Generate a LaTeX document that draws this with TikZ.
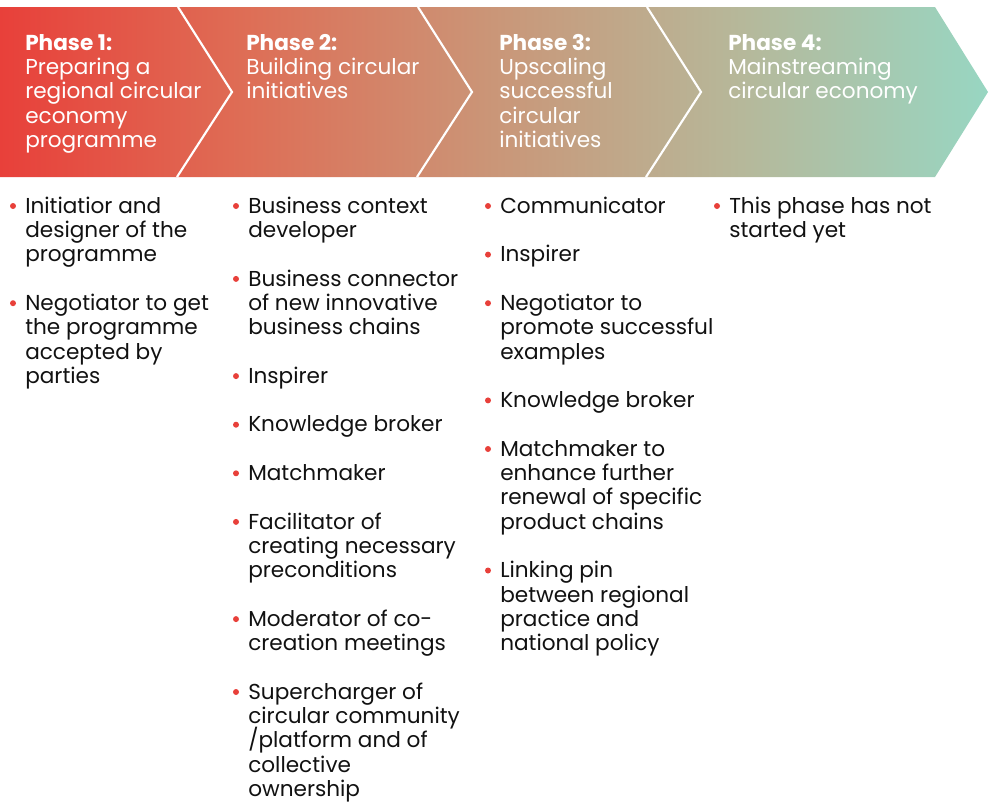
\documentclass[tikz,border=0pt]{standalone}
\usepackage{fontspec}
\setmainfont{Poppins}
\usepackage{tikz}
\usetikzlibrary{calc,positioning}

\definecolor{phasered}{RGB}{232,64,58}
\definecolor{phasemid}{RGB}{222,110,86}
\definecolor{phasetan}{RGB}{202,150,120}
\definecolor{phasesand}{RGB}{182,184,154}
\definecolor{phaseteal}{RGB}{152,214,194}
\definecolor{dotred}{RGB}{232,64,58}
\definecolor{roleink}{RGB}{17,17,17}

\pgfdeclarehorizontalshading{phaseband}{100bp}{%
  color(0bp)=(phasered); color(25bp)=(phasered);
  color(37.5bp)=(phasemid); color(50bp)=(phasetan);
  color(62.5bp)=(phasesand); color(75bp)=(phaseteal);
  color(100bp)=(phaseteal)}

% first line top fixed 17px above its baseline
\newcommand{\topline}{\rule{0pt}{12.75pt}}
\newcommand{\phasefont}{\fontsize{16.2}{18.2}\selectfont\lineskiplimit=-20pt}

\begin{document}
\begin{tikzpicture}[
    x=0.75pt, y=-0.75pt,
    phasehead/.style={anchor=north west, inner sep=0pt, align=left, text=white,
      font=\phasefont},
    role/.style={anchor=north west, inner sep=0pt, align=left, text=roleink,
      font=\phasefont},
    sep/.style={draw=white, line width=1.6pt},
    dot/.style={fill=dotred}
]
    \useasboundingbox (0,0) rectangle (990,801);

    % Phase band
    \shade[shading=phaseband] (0,7) -- (935,7) -- (988,92) -- (935,177) -- (0,177) -- cycle;
    \foreach \x in {178,418,647}
        \draw[sep] (\x,7) -- ++(54,85) -- ++(-55,85);

    % Headings (first baseline at y=50)
    \node[phasehead] (p1) at (25,33) {\topline\textbf{Phase 1:}\\Preparing a\\regional circular\\economy\\programme};
    \node[phasehead] (p2) at (246,33) {\topline\textbf{Phase 2:}\\Building circular\\initiatives};
    \node[phasehead] (p3) at (499,33) {\topline\textbf{Phase 3:}\\Upscaling\\successful\\circular\\initiatives};
    \node[phasehead] (p4) at (728,33) {\topline\textbf{Phase 4:}\\Mainstreaming\\circular economy};

    % Roles, phase 1
    \node[role] (r1a) at (25,196) {\topline Initiatior and\\designer of the\\programme};
    \node[role] (r1b) at (25,293.2) {\topline Negotiator to get\\the programme\\accepted by\\parties};

    % Roles, phase 2
    \node[role] (r2a) at (248,196) {\topline Business context\\developer};
    \node[role] (r2b) at (248,268.9) {\topline Business connector\\of new innovative\\business chains};
    \node[role] (r2c) at (248,366.1) {\topline Inspirer};
    \node[role] (r2d) at (248,414.7) {\topline Knowledge broker};
    \node[role] (r2e) at (248,463.3) {\topline Matchmaker};
    \node[role] (r2f) at (248,511.9) {\topline Facilitator of\\creating necessary\\preconditions};
    \node[role] (r2g) at (248,609.1) {\topline Moderator of co-\\creation meetings};
    \node[role] (r2h) at (248,682) {\topline Supercharger of\\circular community\\/platform and of\\collective\\ownership};

    % Roles, phase 3
    \node[role] (r3a) at (500,196) {\topline Communicator};
    \node[role] (r3b) at (500,244.6) {\topline Inspirer};
    \node[role] (r3c) at (500,293.2) {\topline Negotiator to\\promote successful\\examples};
    \node[role] (r3d) at (500,390.4) {\topline Knowledge broker};
    \node[role] (r3e) at (500,439) {\topline Matchmaker to\\enhance further\\renewal of specific\\product chains};
    \node[role] (r3f) at (500,560.5) {\topline Linking pin\\between regional\\practice and\\national policy};

    % Roles, phase 4
    \node[role] (r4a) at (729,196) {\topline This phase has not\\started yet};

    % Bullets
    \foreach \r in {r1a,r1b,r2a,r2b,r2c,r2d,r2e,r2f,r2g,r2h,r3a,r3b,r3c,r3d,r3e,r3f,r4a}
        \fill[dot] ($(\r.north west)+(-12,10)$) circle (3);
\end{tikzpicture}
\end{document}
